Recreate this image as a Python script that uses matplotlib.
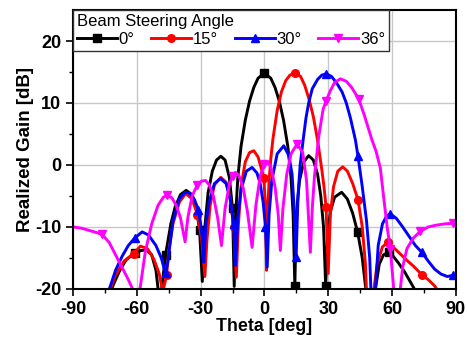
import numpy as np
import matplotlib.pyplot as plt

# lecturas del patron de radiacion (theta en grados, ganancia en dB)
th0 = [-73, -71, -68, -65, -61, -58, -55.5, -53, -51, -50, -49.3, -48.3, -46.5, -44, -42, -39.5, -36.8,
       -34, -32, -30.5, -29.2, -28, -26.5, -24.5, -22.5, -20.5, -18.5, -16.5, -15, -14.2, -13.5, -12.5,
       -11, -9, -7, -5, -3, 0, 3, 5, 7, 9, 11, 12.5, 13.5, 14.3, 15, 16.5, 18.5, 20.8, 23, 25, 26.5,
       27.8, 28.8, 29.8, 31, 33, 36.3, 39, 41.5, 43.8, 46, 47.5, 48.5, 49.5, 51, 52.2, 54, 56, 58.5,
       60, 63, 66, 68.5, 70.5, 72]
g0 = [-21, -19.3, -17, -15.3, -14.2, -13.8, -13.7, -14.5, -17, -20, -30, -20, -14.5, -9.5, -6.8, -4.8,
      -4.1, -4.8, -7, -10.5, -18.8, -10, -4.5, -1, 0.8, 1.4, 0.8, -2, -7, -19.6, -8, -2, 3, 7.2, 10.3,
      12.5, 14, 14.8, 14, 12.5, 10.3, 7.2, 3, -2, -8, -19.5, -8, -2.5, 0.5, 1.5, 0.8, -1.5, -5, -10,
      -19.5, -11, -7.5, -5.2, -4.4, -5.5, -7.8, -10.8, -15, -19.5, -22, -30, -25, -20, -16, -14.5,
      -14.1, -14.5, -15.8, -17.3, -18.8, -20, -21]

th15 = [-73, -70, -66, -61.5, -58.3, -55, -52, -49.5, -47.8, -46, -45, -43, -40, -37, -34, -31.5,
        -29.5, -28, -27, -25.5, -23.5, -20.5, -18, -16, -14.5, -13.2, -12.3, -11, -9, -7, -5, -3,
        -1.5, -0.3, 0.4, 1, 1.6, 2.2, 3, 4, 6, 8, 10, 12, 14.5, 17, 19, 21, 23, 25, 27, 28, 29, 30,
        31, 32.5, 34.5, 36.8, 39, 41.5, 44, 46, 47.5, 48.5, 50, 51.5, 53, 55.5, 58, 61, 64, 67, 70,
        74, 77, 80, 82]
g15 = [-20.5, -17.8, -15.5, -14.3, -13.1, -13.5, -15.2, -17.5, -20.5, -17.8, -14, -9.5, -6, -4.6,
       -5.5, -8, -12, -18, -12, -6.5, -3.2, -2, -2.8, -5.5, -10, -18.1, -10, -3.5, 0.5, 2, 2.3, 1.3,
       -0.5, -2.1, -6, -17, -7, -2.5, 1, 4.2, 8.8, 11.8, 13.6, 14.5, 14.8, 14.3, 12.8, 10.6, 7.8, 4,
       -0.8, -3.5, -6.8, -17.5, -8, -3.5, -1, -0.3, -1, -3, -5.6, -10, -16, -25, -28, -20, -16, -13.2,
       -12.5, -13.4, -14.4, -15.4, -16.3, -17.7, -18.5, -19.5, -20.5]

th30 = [-73.5, -72.4, -70, -67, -64, -61, -57.5, -54.5, -51, -48.5, -46.5, -45.5, -43, -40, -37.3,
        -35, -33, -31, -30, -29, -28.5, -27.5, -26, -23.5, -20.7, -18, -16, -14.5, -13.6, -12.5,
        -11, -8.5, -5.8, -3.5, -2, -0.6, 0.5, 1.3, 2.2, 3.5, 6, 9.1, 11.5, 13, 13.8, 14.9, 15.8,
        16.8, 18.2, 19.5, 20.8, 22.5, 25, 27, 29, 31.5, 34, 36.5, 38.5, 40.5, 42.8, 44, 46, 48, 49.5,
        50.6, 51.5, 52.2, 53.5, 55.5, 57.5, 59.2, 62, 65, 68, 71, 74, 77, 80, 83, 86, 88.8, 90]
g30 = [-20.5, -19.5, -17, -14.8, -13, -11.8, -10.8, -11.3, -13, -15, -17.5, -15.8, -9, -5.5, -4.4,
       -4.6, -5.5, -7.3, -9.5, -12.5, -15.7, -9.5, -6, -3, -2.2, -3, -5.7, -9.5, -16.2, -8.5, -4,
       -1, -0.4, -1.3, -3, -6, -10, -16.5, -8, -2.5, 1.8, 3.1, 1.5, -1.5, -6, -14.9, -5, 0, 4, 7.5,
       10, 12.3, 13.8, 14.5, 14.7, 14.3, 13.2, 11.8, 10, 7.5, 4, 1.4, -3.5, -9, -15, -25, -25, -20,
       -13, -9.5, -8.2, -7.9, -8.6, -10, -11.5, -13, -14.1, -15.5, -16.8, -17.6, -18, -17.8, -17.6]

th36 = [-90, -86, -82, -79, -76.3, -73, -70, -67, -64, -62, -61, -60, -59.5, -58.5, -56, -53, -50,
        -47.5, -45.7, -43.5, -41.5, -39.5, -37.3, -36, -34, -31.5, -29.5, -27.7, -26, -24, -22,
        -20.2, -18.5, -16.5, -15, -13.6, -12, -10, -8, -5.8, -4, -2, 0, 1.3, 3, 5, 6.5, 7.5, 8.7,
        10.5, 12.5, 15.4, 18, 19.8, 21.6, 22.5, 23.5, 25.5, 27.6, 29.1, 31, 33, 35.7, 38.5, 41,
        44.3, 47, 50.6, 52.5, 54.5, 56, 57.7, 59.2, 60.8, 61.5, 62.5, 63.9, 65, 67, 70, 73.3, 77,
        81, 85, 88.7, 90]
g36 = [-10, -10.2, -10.6, -10.9, -11.2, -12.5, -14.5, -16.5, -18.5, -20, -24, -30, -25, -20, -14,
       -9.5, -6.5, -5.2, -4.9, -5.3, -6.5, -8.5, -12.4, -8.5, -5, -3.2, -2.6, -2.5, -3.2, -5, -8.5,
       -13, -7, -3.2, -1.8, -1.2, -1.7, -3.7, -7.5, -13.3, -6.5, -1.8, 0.2, 0.5, -0.3, -3.5, -8,
       -13.8, -7, -1.5, 1.8, 3.4, 2, -2.5, -14.1, -7, -2, 4.5, 9, 10.4, 12, 13.3, 13.9, 13.5, 12.5,
       10.7, 8, 4, 2.2, -0.5, -5, -10, -13.5, -20, -30, -30, -20, -16.5, -13.5, -11.8, -10.7, -10,
       -9.7, -9.5, -9.4, -9.3]

angulos = ['0°', '15°', '30°', '36°']
colores = ['black', 'red', 'blue', 'magenta']
marcas = ['s', 'o', '^', 'v']
# posiciones aproximadas de los simbolos
pos_marcas = [-76, -61, -46, -30.5, -15, 0, 14.5, 29.2, 44, 59, 74, 88.7]

plt.rcParams['font.family'] = ['Liberation Sans', 'DejaVu Sans']
plt.rcParams['axes.unicode_minus'] = False

fig = plt.figure(figsize=(4.68, 3.46), dpi=100)
ax = fig.add_axes([0.156, 0.165, 0.818, 0.806])

datos = [(th0, g0), (th15, g15), (th30, g30), (th36, g36)]
for (th, g), lab, c, m in zip(datos, angulos, colores, marcas):
    th = np.array(th)
    idx = []
    for p in pos_marcas:
        i = int(np.argmin(np.abs(th - p)))
        if abs(th[i] - p) < 1.5 and i not in idx:
            idx.append(i)
    ax.plot(th, g, color=c, lw=2.1, marker=m, ms=5.5, markevery=idx, label=lab)

ax.set_xlim(-90, 90)
ax.set_ylim(-20, 25)
ax.set_xticks(np.arange(-90, 91, 30))
ax.set_xticks(np.arange(-90, 91, 15), minor=True)
ax.set_yticks([-20, -10, 0, 10, 20])
ax.set_yticks(np.arange(-20, 25, 5), minor=True)
ax.grid(True, which='major', color='#c8c8c8', lw=1)
ax.set_axisbelow(True)
ax.tick_params(which='major', direction='out', length=5, width=1.2, labelsize=13)
ax.tick_params(which='minor', direction='out', length=3, width=1)
for t in ax.get_xticklabels() + ax.get_yticklabels():
    t.set_fontweight('bold')
for s in ax.spines.values():
    s.set_linewidth(1.5)

ax.set_xlabel('Theta [deg]', fontsize=12.8, fontweight='bold', labelpad=0)
ax.set_ylabel('Realized Gain [dB]', fontsize=13.5, fontweight='bold', labelpad=1)

leg = ax.legend(title='Beam Steering Angle', ncol=4, loc='upper left', bbox_to_anchor=(0, 1),
                borderaxespad=0, fontsize=12, title_fontsize=12, handlelength=2.4,
                columnspacing=1.0, handletextpad=0.1, fancybox=False, framealpha=1,
                edgecolor='#333333', alignment='left', borderpad=0.25, labelspacing=0.15)
leg.get_frame().set_linewidth(1)

fig.savefig('out.png', dpi=100)
